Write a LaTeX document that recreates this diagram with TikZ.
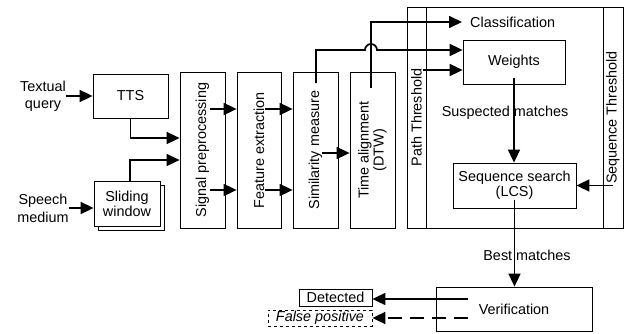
\documentclass[tikz,border=0pt]{standalone}
\usepackage{fontspec}
\setmainfont{Liberation Sans}
\usetikzlibrary{arrows.meta}
\begin{document}
\begin{tikzpicture}[x=1pt, y=1pt, font=\fontsize{14.4}{15}\selectfont,
  box/.style={draw, line width=0.8pt, inner sep=0pt, fill=white},
  arr/.style={line width=1.7pt, -{Triangle[length=13pt,width=12pt]}},
  lbl/.style={align=center, inner sep=0pt}]
\useasboundingbox (0,0) rectangle (628,333);
% inputs
\node[lbl] (textq) at (43,237) {Textual\\[2pt]query};
\node[lbl] (speech) at (43,125) {Speech\\[3pt]medium};
\node[box, minimum width=75, minimum height=44] (tts) at (130.5,237) {TTS};
\node[box, minimum width=66, minimum height=45] (shadow) at (131,125.5) {};
\node[box, minimum width=66, minimum height=45, align=center] (slide) at (127,129.5) {Sliding\\window};
% processing chain
\node[box, minimum width=45, minimum height=156] (sig) at (202.5,183) {};
\node[rotate=90] at (sig) {Signal preprocessing};
\node[box, minimum width=44, minimum height=156] (feat) at (259,183) {};
\node[rotate=90] at (feat) {Feature extraction};
\node[box, minimum width=45, minimum height=156] (sim) at (315.5,183) {};
\node[rotate=90] at (sim) {Similarity measure};
\node[box, minimum width=45, minimum height=156] (time) at (372.5,183) {};
\node[rotate=90, align=center] at (time) {Time alignment\\(DTW)};
% detection block
\node[box, minimum width=216, minimum height=221] (detect) at (515,215.5) {};
\node[box, minimum width=19, minimum height=221] (pthr) at (416.5,215.5) {};
\node[rotate=90] at (pthr) {Path Threshold};
\node[box, minimum width=20, minimum height=221] (sqthr) at (613,215.5) {};
\node[rotate=90] at (sqthr) {Sequence Threshold};
\node[anchor=west, inner xsep=8pt] (class) at (462,311) {Classification};
\node[box, minimum width=102, minimum height=44] (weights) at (514,271) {Weights};
\node[box, minimum width=123, minimum height=45, align=center] (seqs) at (514.5,147.5) {Sequence search\\(LCS)};
\node (susp) at (505,220) {Suspected matches};
% verification
\node[box, minimum width=156, minimum height=44] (verif) at (514,24) {Verification};
\node (best) at (527,78) {Best matches};
\node[box, minimum width=73, minimum height=17] (det) at (335.5,35.5) {Detected};
\node[box, dashed, minimum width=104, minimum height=16] (fp) at (320,15) {\itshape False positive};
% helper points
\coordinate (rowA) at (0,224);
\coordinate (rowB) at (0,143);
\coordinate (rowC) at (0,180);
\coordinate (rowD) at (0,34);
\coordinate (simtop) at (316,250);
\coordinate (timetop) at (371,245);
\coordinate (hopL) at (365,283);
\coordinate (pthout) at (423,263);
% connectors
\draw[arr] (textq.east) -- (tts.west);
\draw[arr] (speech.east) -- (speech.east -| slide.west);
\draw[arr] (tts.south) |- ([yshift=12pt]sig.west);
\draw[arr] ([xshift=3pt]slide.north) |- ([yshift=-10pt]sig.west);
\draw[arr] ([xshift=7.5pt]sig.center |- rowA) -- (feat.west |- rowA);
\draw[arr] ([xshift=7.5pt]sig.center |- rowB) -- (feat.west |- rowB);
\draw[arr] ([xshift=6pt]feat.center |- rowA) -- (sim.west |- rowA);
\draw[arr] ([xshift=6pt]feat.center |- rowB) -- (sim.west |- rowB);
\draw[arr] ([xshift=6.5pt]sim.center |- rowC) -- (time.west |- rowC);
\draw[arr] (timetop) |- (class.west);
\draw[arr] (simtop) |- (hopL) arc[start angle=180, end angle=0, radius=6pt] -- (weights.west |- hopL);
\draw[arr] (pthout) -- (weights.west |- pthout);
\draw[arr] ([yshift=-16pt]weights.center) -- (seqs.north -| weights.center);
\draw[arr] (sqthr.center |- seqs.east) -- (seqs.east);
\draw[arr] ([yshift=-14pt]seqs.center) -- (verif.north -| seqs.center);
\draw[arr] ([xshift=-46pt]verif.center |- rowD) -- (det.east |- rowD);
\draw[arr, dash pattern=on 14pt off 8pt] ([xshift=-46pt]verif.center |- fp.east) -- (fp.east);
\end{tikzpicture}
\end{document}
